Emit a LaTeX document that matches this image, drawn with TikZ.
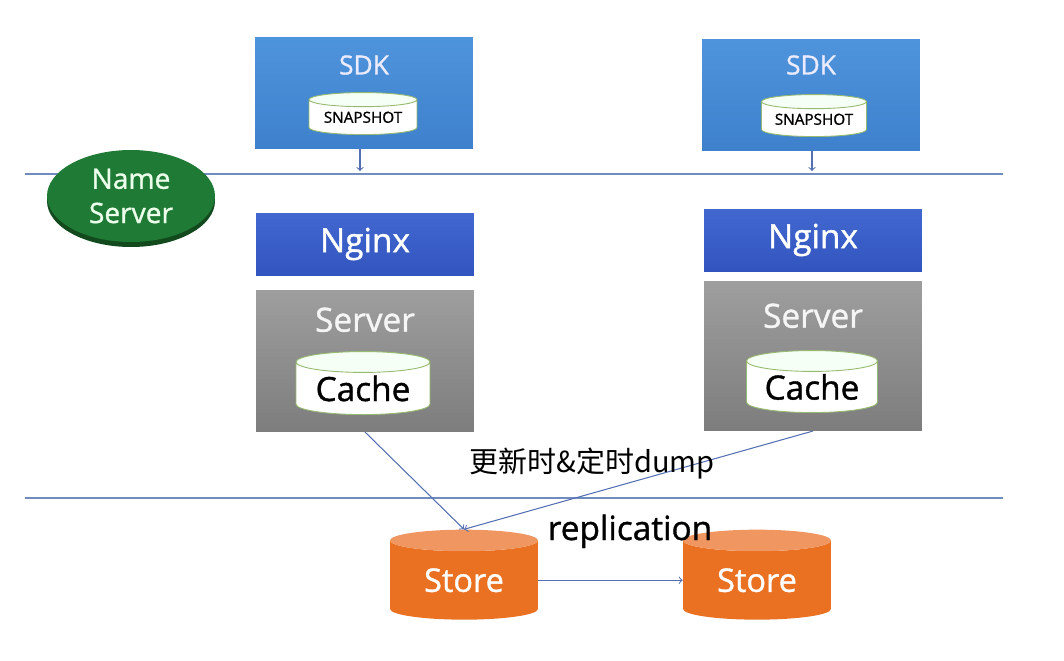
\documentclass[tikz,border=0pt]{standalone}
\usepackage{fontspec}
\setmainfont{Open Sans}[FakeBold=1.1]
\newfontfamily\cjk{Noto Sans CJK SC}
\usetikzlibrary{positioning,shapes.geometric,shadows}

\definecolor{sdkTop}{RGB}{78,148,220}
\definecolor{sdkBottom}{RGB}{62,128,204}
\definecolor{nginxTop}{RGB}{66,104,208}
\definecolor{nginxBottom}{RGB}{50,84,190}
\definecolor{serverTop}{RGB}{158,158,158}
\definecolor{serverBottom}{RGB}{125,125,125}
\definecolor{storeBody}{RGB}{234,112,34}
\definecolor{storeEnd}{RGB}{240,150,96}
\definecolor{nameGreen}{RGB}{30,122,52}
\definecolor{nameDark}{RGB}{18,74,30}
\definecolor{lineBlue}{RGB}{84,112,178}
\definecolor{sepBlue}{RGB}{112,140,190}
\definecolor{dbRim}{RGB}{150,186,110}

\tikzstyle{sdkBox} = [rectangle, minimum width=4.36cm, minimum height=2.22cm, top color=sdkTop, bottom color=sdkBottom, inner sep=0pt]
\tikzstyle{nginxBox} = [rectangle, minimum width=4.36cm, minimum height=1.24cm, top color=nginxTop, bottom color=nginxBottom, text=white, font=\fontsize{19}{22}\selectfont]
\tikzstyle{serverBox} = [rectangle, minimum width=4.36cm, top color=serverTop, bottom color=serverBottom, inner sep=0pt]
\tikzstyle{dbNode} = [cylinder, shape border rotate=90, anchor=south, draw=dbRim, line width=0.5pt, cylinder uses custom fill, cylinder body fill=white, cylinder end fill=white!96!green, inner sep=0pt]
\tikzstyle{storeNode} = [cylinder, shape border rotate=90, anchor=south, aspect=0.27, minimum width=2.96cm, minimum height=1.8cm, cylinder uses custom fill, cylinder body fill=storeBody, cylinder end fill=storeEnd, text=white, font=\fontsize{18.5}{21}\selectfont, inner sep=0pt]
\tikzstyle{arrow} = [->, >=to, draw=lineBlue, line width=0.6pt]
\tikzstyle{sepLine} = [draw=sepBlue, line width=0.7pt]

\begin{document}
\begin{tikzpicture}[x=0.02cm, y=-0.02cm]
    \useasboundingbox (0,0) rectangle (1064,660);

    % separators
    \draw [sepLine] (25,174) -- (1003,174);
    \draw [sepLine] (25,498) -- (1003,498);

    \node (nameServer)[ellipse, minimum width=3.36cm, minimum height=1.84cm, inner sep=0pt, fill=nameGreen, general shadow={fill=nameDark, shadow yshift=-0.1cm}, text=white!92!green, align=center, font=\fontsize{16}{19.5}\selectfont] at (131,196) {Name\\Server};

    % client side
    \node (sdkL)[sdkBox, label={[anchor=north, yshift=-0.24cm, text=white!92!blue, font=\fontsize{15}{17}\selectfont]north:SDK}] at (364,93) {};
    \node (sdkR)[sdkBox, label={[anchor=north, yshift=-0.2cm, text=white!92!blue, font=\fontsize{15}{17}\selectfont]north:SDK}] at (811,95) {};
    \node (snapL)[dbNode, aspect=0.18, minimum width=2.16cm, minimum height=0.84cm, font=\fontsize{8.7}{10}\selectfont] at (363,135) {SNAPSHOT};
    \node (snapR)[dbNode, aspect=0.18, minimum width=2.1cm, minimum height=0.84cm, font=\fontsize{8.7}{10}\selectfont] at (814,137) {SNAPSHOT};

    \coordinate (inL) at (360,171);
    \coordinate (inR) at (812,171);
    \draw [arrow] (sdkL.south -| inL) -- (inL);
    \draw [arrow] (sdkR.south -| inR) -- (inR);

    % server side
    \node (nginxL)[nginxBox] at (365,244) {Nginx};
    \node (nginxR)[nginxBox] at (813,240) {Nginx};
    \node (serverL)[serverBox, minimum height=2.82cm, below=0.3cm of nginxL, label={[anchor=north, yshift=-0.22cm, text=white!92!gray, font=\fontsize{19}{22}\selectfont]north:Server}] {};
    \node (serverR)[serverBox, minimum height=2.98cm, below=0.2cm of nginxR, label={[anchor=north, yshift=-0.32cm, text=white!92!gray, font=\fontsize{19}{22}\selectfont]north:Server}] {};
    \node (cacheL)[dbNode, aspect=0.22, minimum width=2.68cm, minimum height=1.26cm, font=\fontsize{19}{22}\selectfont] at (363,415) {Cache};
    \node (cacheR)[dbNode, aspect=0.22, minimum width=2.62cm, minimum height=1.24cm, font=\fontsize{19}{22}\selectfont] at (812,413) {Cache};

    % storage
    \node (storeL)[storeNode] at (464,620) {Store};
    \node (storeR)[storeNode] at (757,620) {Store};

    \draw [arrow] (serverL.south) -- (storeL.north);
    \draw [arrow] (serverR.south) -- (storeL.north);
    \draw [arrow] (storeL.east) -- (storeR.west);

    \node (dumpText)[anchor=base, font=\cjk\fontsize{16.5}{19}\selectfont] at (592,472) {更新时\&定时dump};
    \node (replText)[anchor=base, font=\fontsize{19}{22}\selectfont] at (630,540) {replication};
\end{tikzpicture}
\end{document}
